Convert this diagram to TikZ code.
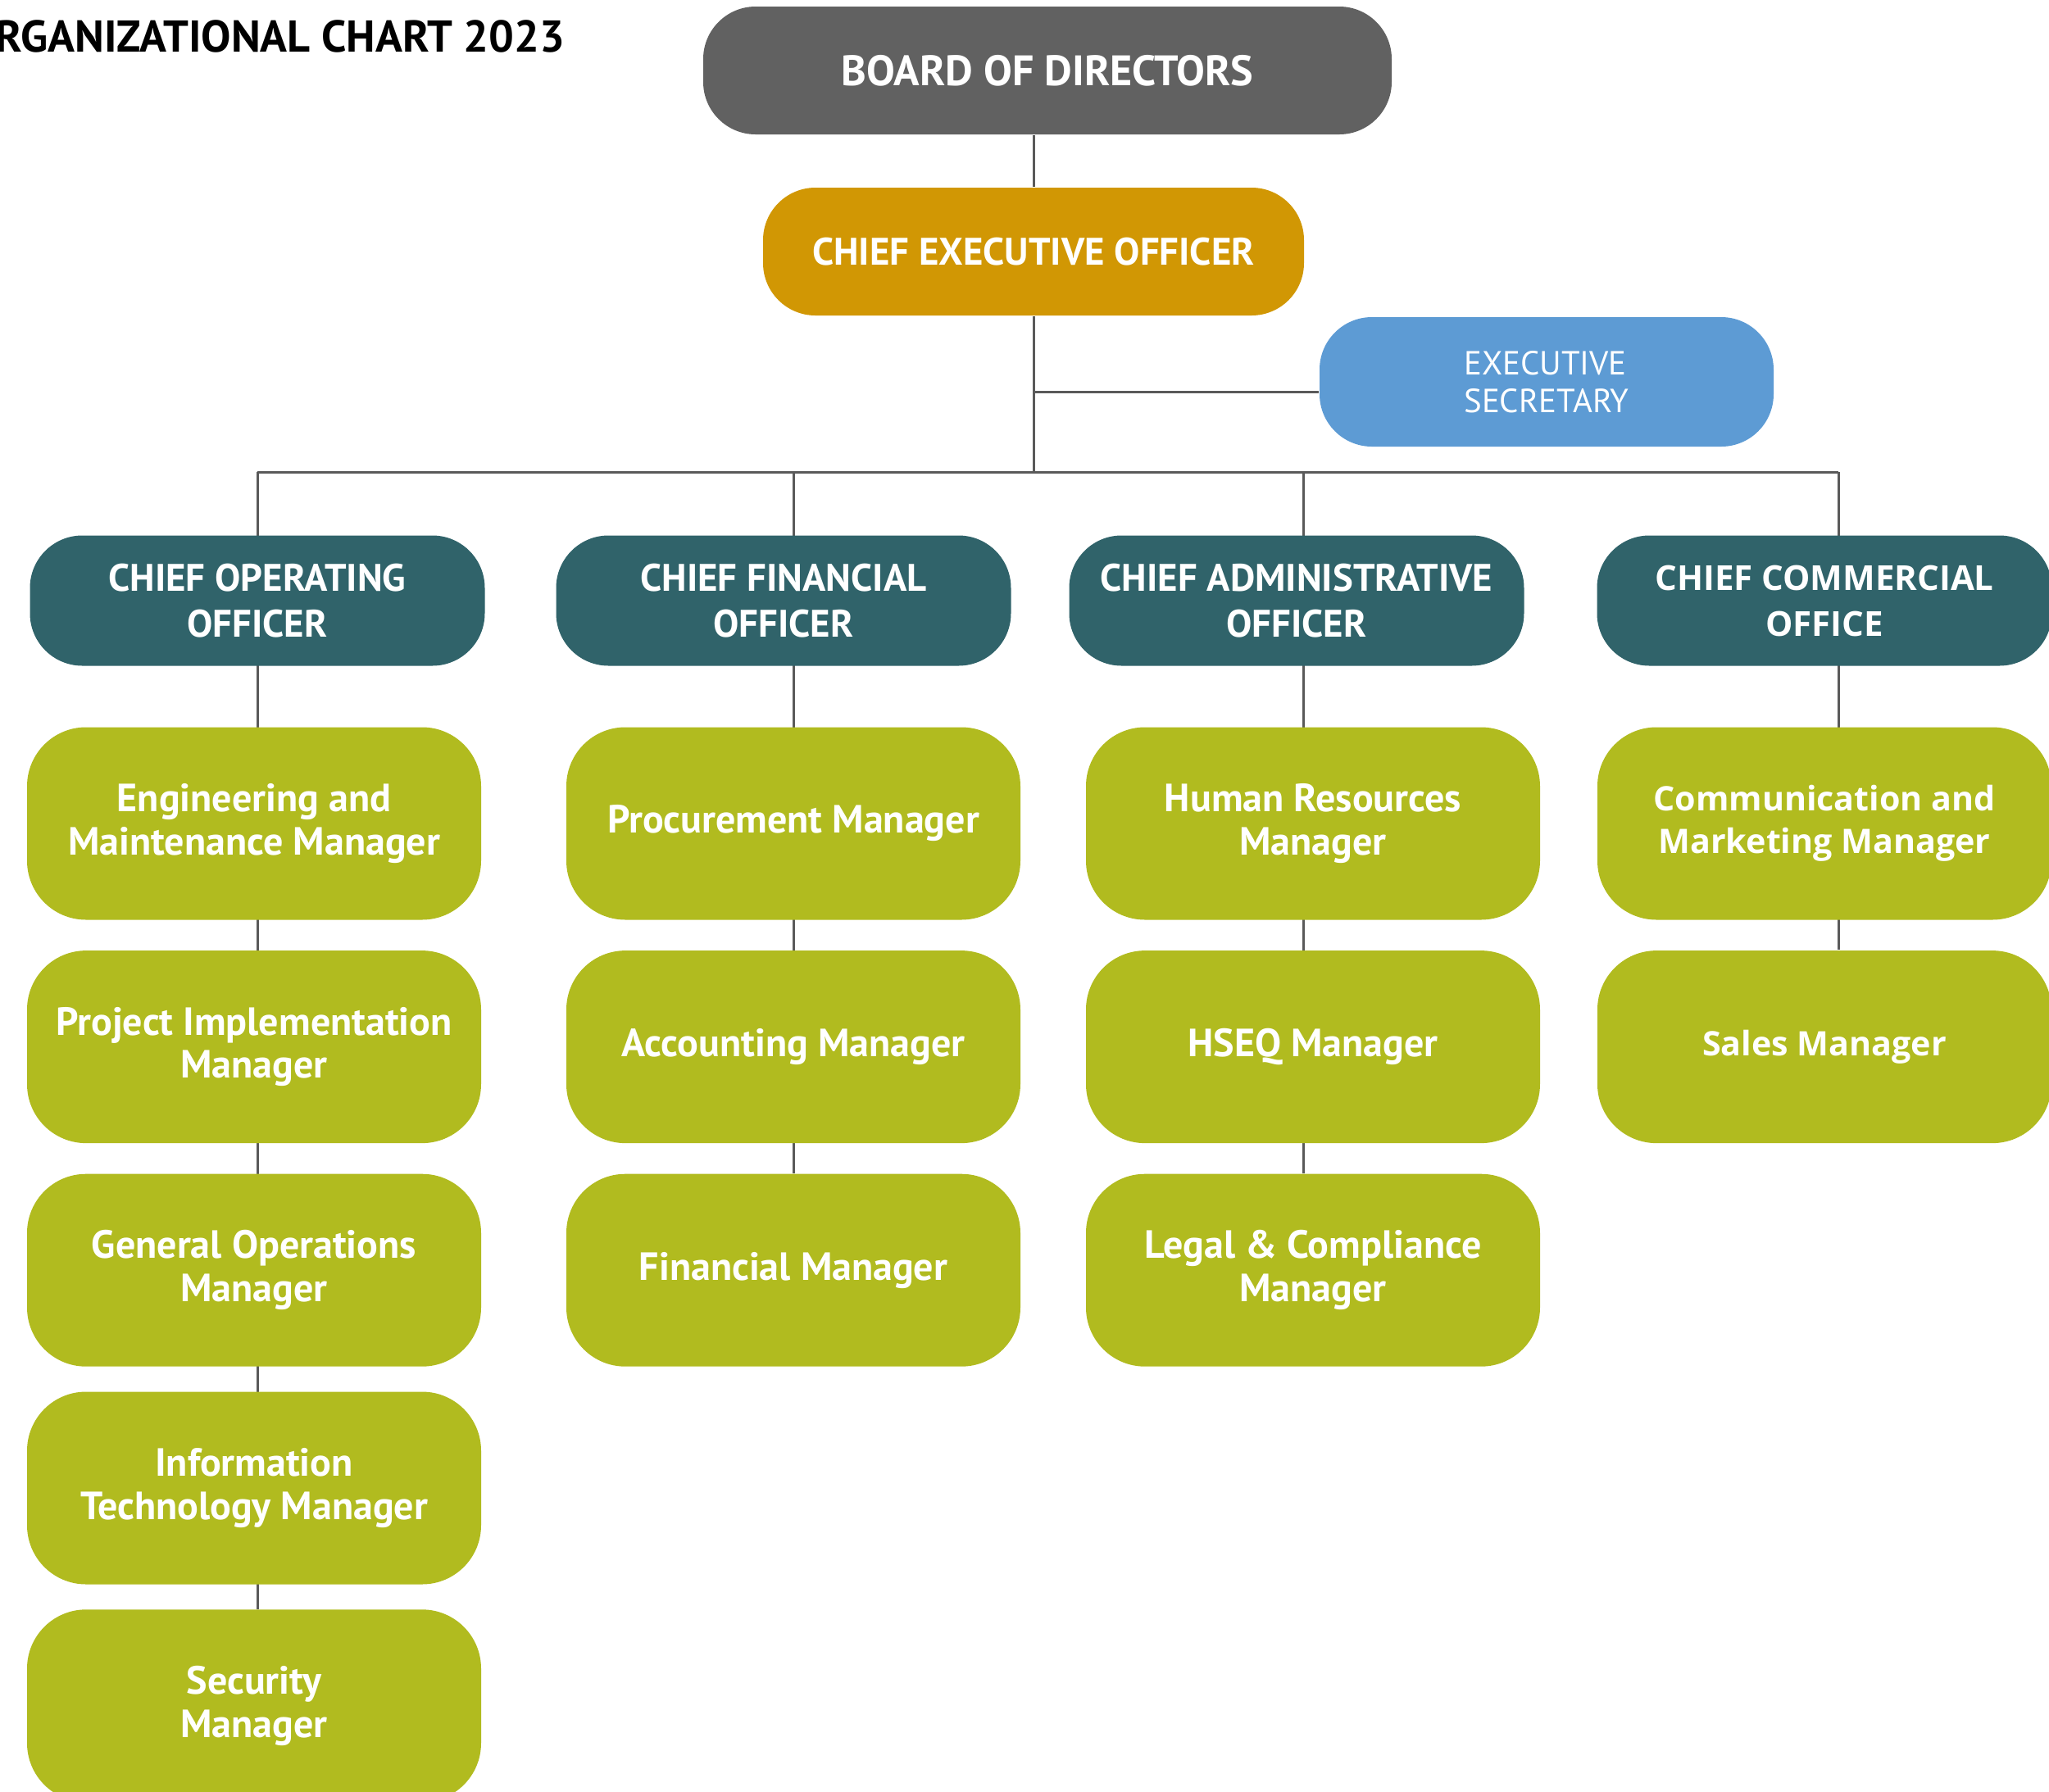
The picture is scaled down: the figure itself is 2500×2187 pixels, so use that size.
\documentclass[tikz,border=0pt]{standalone}
\usepackage{fontspec}
\setmainfont{PT Sans}
\newfontfamily\widefont{Open Sans}
\usetikzlibrary{positioning,backgrounds}

\definecolor{boardgray}{HTML}{616161}
\definecolor{ceogold}{HTML}{D19704}
\definecolor{secblue}{HTML}{5D9BD4}
\definecolor{chiefteal}{HTML}{30636A}
\definecolor{mgrgreen}{HTML}{B1BB1F}
\definecolor{linegray}{HTML}{5A5A5A}

\tikzset{
  orgbox/.style={rounded corners=16pt, text=white, align=center, inner sep=0pt},
  headbox/.style={orgbox, minimum height=39pt},
  secbox/.style={orgbox, fill=secblue, align=left, minimum width=138.5pt, minimum height=39.5pt, font=\fontsize{10.2}{11.5}\selectfont},
  chiefbox/.style={orgbox, fill=chiefteal, minimum width=138.75pt, minimum height=39.75pt, font=\bfseries\fontsize{11.7}{14}\selectfont},
  mgrbox/.style={orgbox, fill=mgrgreen, rounded corners=18pt, minimum width=138.5pt, minimum height=58.75pt, font=\bfseries\fontsize{12}{13.2}\selectfont},
  widebox/.style={font=\widefont\bfseries\fontsize{10.3}{13}\selectfont},
  link/.style={draw=linegray, line width=0.75pt},
}

\begin{document}
\begin{tikzpicture}[x=0.25pt,y=-0.25pt]
\useasboundingbox (0,0) rectangle (2500,2187);
\clip (0,0) rectangle (2500,2187);

\node[anchor=east, inner sep=0pt, font=\bfseries\fontsize{13.6}{16}\selectfont] (title) at (690,44) {ORGANIZATIONAL CHART 2023};

% top of the chart
\node[headbox, fill=boardgray, minimum width=210pt, font=\bfseries\fontsize{13}{15}\selectfont] (board) at (1278,86) {BOARD OF DIRECTORS};
\node[headbox, fill=ceogold, minimum width=165pt, font=\bfseries\fontsize{11.7}{14}\selectfont] (ceo) at (1261,307) {CHIEF EXECUTIVE OFFICER};
\node[secbox] (sec) at (1887,466) {EXECUTIVE\\SECRETARY};

% chiefs
\node[chiefbox] (coo) at (314,733) {CHIEF OPERATING\\OFFICER};
\node[chiefbox] (cfo) at (956,733) {CHIEF FINANCIAL\\OFFICER};
\node[chiefbox] (cao) at (1582,733) {CHIEF ADMINISTRATIVE\\OFFICER};
\node[chiefbox, font=\widefont\bfseries\fontsize{10.5}{14}\selectfont] (cco) at (2226,733) {CHIEF COMMERCIAL\\OFFICE};

% managers, operating
\node[mgrbox] (eng) at (310,1005) {Engineering and\\Maintenance Manager};
\node[mgrbox, below=9pt of eng] (proj) {Project Implementation\\Manager};
\node[mgrbox, below=9pt of proj] (genop) {General Operations\\Manager};
\node[mgrbox, below=7.3pt of genop] (itm) {Information\\Technology Manager};
\node[mgrbox, below=7.3pt of itm] (secu) {Security\\Manager};

% managers, financial
\node[mgrbox] (proc) at (968,1005) {Procurement Manager};
\node[mgrbox, below=9pt of proc] (acct) {Accounting Manager};
\node[mgrbox, below=9pt of acct] (fin) {Financial Manager};

% managers, administrative
\node[mgrbox] (hr) at (1602,1005) {Human Resources\\Manager};
\node[mgrbox, below=9pt of hr] (hseq) {HSEQ Manager};
\node[mgrbox, below=9pt of hseq] (legal) {Legal \& Compliance\\Manager};

% managers, commercial
\node[mgrbox, widebox] (comm) at (2226,1005) {Communication and\\Marketing Manager};
\node[mgrbox, widebox, below=9pt of comm] (sales) {Sales Manager};

% connectors
\coordinate (secjoin) at (1261,478);
\coordinate (b1) at (314,576);
\coordinate (b2) at (968,576);
\coordinate (b3) at (1590,576);
\coordinate (b4) at (2243,576);
\begin{scope}[on background layer]
\draw[link] (ceo.north) -- (ceo.north |- board.south);
\draw[link] (ceo.south) -- (ceo.south |- b1);
\draw[link] (secjoin) -- (secjoin -| sec.west);
\draw[link] (b1) -- (b4);
\draw[link] (b1) -- (b1 |- secu.north);
\draw[link] (b2) -- (b2 |- fin.north);
\draw[link] (b3) -- (b3 |- legal.north);
\draw[link] (b4) -- (b4 |- sales.north);
\end{scope}

\end{tikzpicture}
\end{document}
